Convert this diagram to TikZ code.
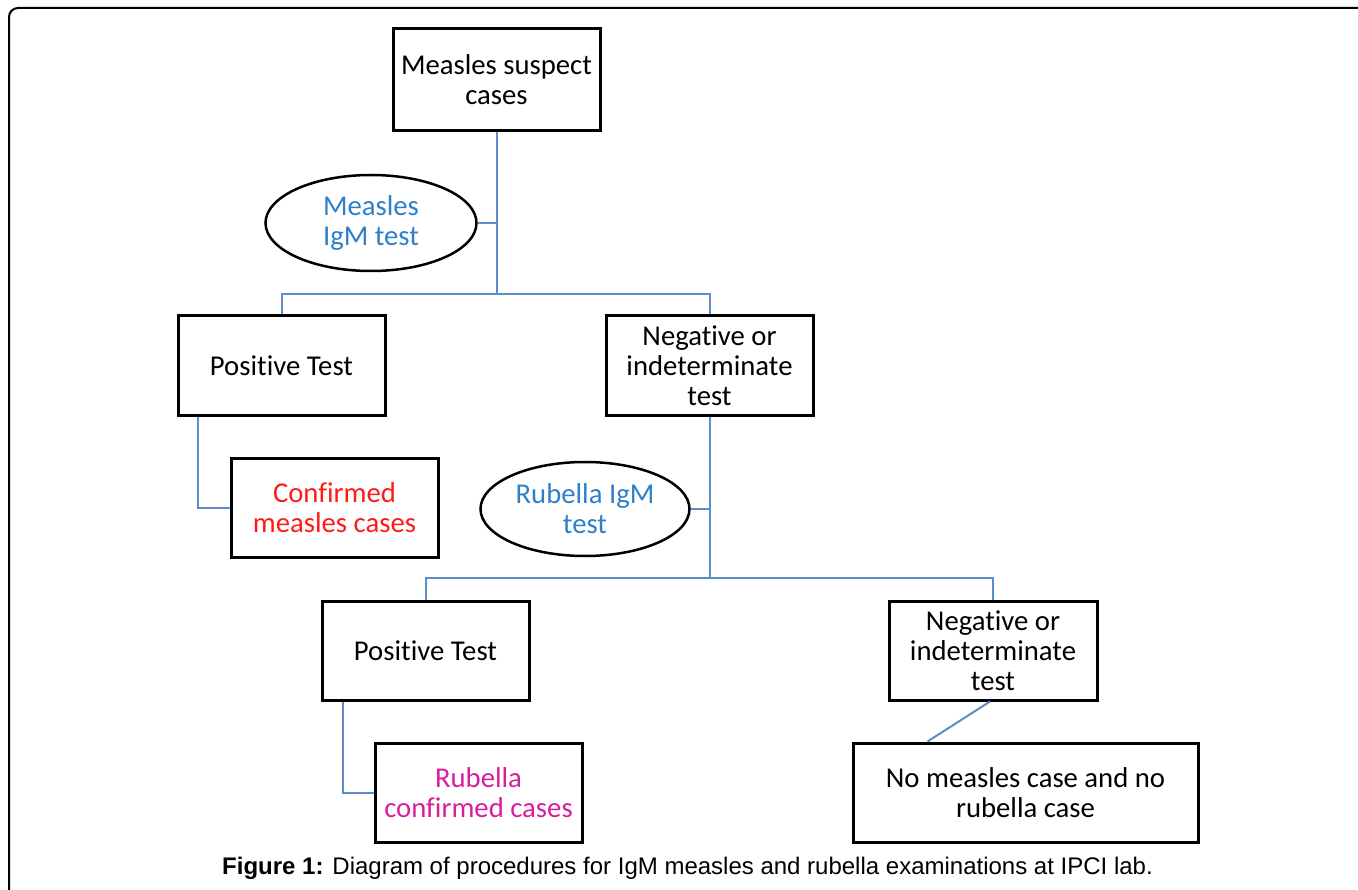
\documentclass[tikz,border=0pt]{standalone}
\usepackage{fontspec}
\setmainfont{Carlito}[Ligatures={NoCommon}]
\newfontfamily\capfont{Liberation Sans}
\usetikzlibrary{shapes.geometric,calc}
\definecolor{linkblue}{HTML}{5B8EC9}
\definecolor{txtblue}{HTML}{2F7FC8}
\definecolor{txtred}{HTML}{FF1A1A}
\definecolor{txtmag}{HTML}{D81E9C}
\begin{document}
\begin{tikzpicture}[x=1pt,y=-1pt,
  boxnode/.style={draw=black,line width=3pt,rectangle,inner sep=0pt,align=center,
    font=\fontsize{28.7}{30}\selectfont},
  ovalnode/.style={draw=black,line width=2.5pt,ellipse,inner sep=0pt,align=center,
    font=\fontsize{28.7}{30}\selectfont,text=txtblue},
  link/.style={draw=linkblue,line width=2pt}]
\useasboundingbox (0,0) rectangle (1358,890);
\draw[line width=2pt,rounded corners=9pt] (9,890) -- (9,8) -- (1358,8);

\node[boxnode,minimum width=207pt,minimum height=102pt] (b1) at (496.5,80) {Measles suspect\\cases};
\node[boxnode,minimum width=207pt,minimum height=100pt] (b2) at (281.5,366) {Positive Test};
\node[boxnode,minimum width=207pt,minimum height=100pt] (b3) at (709.5,366) {Negative or\\indeterminate\\test};
\node[boxnode,minimum width=207pt,minimum height=98pt,text=txtred] (b4) at (334.5,508) {Confirmed\\measles cases};
\node[boxnode,minimum width=207pt,minimum height=99pt] (b5) at (425.5,650.5) {Positive Test};
\node[boxnode,minimum width=208pt,minimum height=99pt] (b6) at (993,650.5) {Negative or\\indeterminate\\test};
\node[boxnode,minimum width=207pt,minimum height=99pt,text=txtmag] (b7) at (478.5,792.5) {Rubella\\confirmed cases};
\node[boxnode,minimum width=345pt,minimum height=99pt] (b8) at (1025.5,792.5) {No measles case and no\\rubella case};

\node[ovalnode,minimum width=211pt,minimum height=96pt] (e1) at (371,223) {Measles\\IgM test};
\node[ovalnode,minimum width=209pt,minimum height=94pt] (e2) at (585,509) {Rubella IgM\\test};

\coordinate (j1) at (496.5,294);
\coordinate (j2) at (709.5,578);

\draw[link] (b1.south) -- (j1);
\draw[link] (b2.north) |- (j1) -| (b3.north);
\draw[link] (e1.east) -- (e1.east -| j1);
\draw[link] ([xshift=21pt]b2.south west) |- (b4.west);
\draw[link] (b3.south) -- (j2);
\draw[link] (b5.north) |- (j2) -| (b6.north);
\draw[link] (e2.east) -- (e2.east -| j2);
\draw[link] ([xshift=22pt]b5.south west) |- (b7.west);
\draw[link] ([xshift=-3pt]b6.south) -- ([xshift=76pt]b8.north west);

\node[font=\capfont\fontsize{24}{26}\selectfont,inner sep=0pt] (cap) at (687.5,868)
  {\textbf{Figure 1:} Diagram of procedures for IgM measles and rubella examinations at IPCI lab.};
\end{tikzpicture}
\end{document}
